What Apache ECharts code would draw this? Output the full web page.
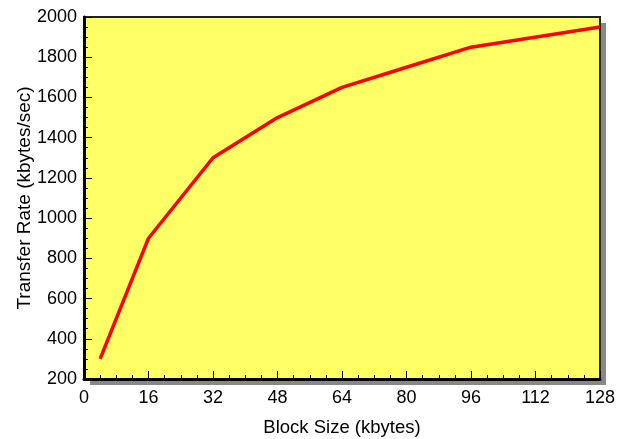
<!DOCTYPE html>
<html>
<head>
<meta charset="utf-8">
<script src="https://cdn.jsdelivr.net/npm/echarts@6/dist/echarts.min.js"></script>
<style>
  html, body { margin: 0; padding: 0; background: #fff; }
  #chart { width: 624px; height: 439px; }
</style>
</head>
<body>
<div id="chart"></div>
<script>
// block size (kbytes) vs transfer rate (kbytes/sec)
const blockSizes = [4, 16, 32, 48, 64, 80, 96, 128];
const transferRates = [300, 900, 1300, 1500, 1650, 1750, 1850, 1950];
const xTicks = [0, 16, 32, 48, 64, 80, 96, 112, 128];
const yTicks = [200, 400, 600, 800, 1000, 1200, 1400, 1600, 1800, 2000];

const font = "Liberation Sans, Arial, sans-serif";
const chart = echarts.init(document.getElementById("chart"));

const data = blockSizes.map((x, i) => [x, transferRates[i]]);

const tick = { inside: true, length: 8, lineStyle: { color: "#000", width: 1 } };
const minor = { show: true, splitNumber: 4, length: 4, lineStyle: { color: "#000", width: 1 } };
const label = { fontFamily: font, fontSize: 18, color: "#000", formatter: v => String(v) };

chart.setOption({
  animation: false,
  grid: [
    // drop shadow behind the plot
    { left: 90, right: 18, top: 23, bottom: 54, show: true, outerBoundsMode: "none",
      backgroundColor: "#888", borderWidth: 0 },
    { left: 84, right: 24, top: 17, bottom: 60, show: true, outerBoundsMode: "none",
      backgroundColor: "#ffff66", borderColor: "#222", borderWidth: 2 }
  ],
  xAxis: [
    { gridIndex: 0, type: "value", min: 0, max: 1, show: false },
    {
      gridIndex: 1,
      type: "value",
      min: xTicks[0],
      max: xTicks[xTicks.length - 1],
      interval: 16,
      name: "Block Size (kbytes)",
      nameLocation: "middle",
      nameGap: 39,
      nameTextStyle: { fontFamily: font, fontSize: 18.5, color: "#000" },
      axisLine: { lineStyle: { color: "#000", width: 3 } },
      axisTick: tick,
      minorTick: minor,
      splitLine: { show: false },
      axisLabel: Object.assign({ margin: 10 }, label)
    }
  ],
  yAxis: [
    { gridIndex: 0, type: "value", min: 0, max: 1, show: false },
    {
      gridIndex: 1,
      type: "value",
      min: yTicks[0],
      max: yTicks[yTicks.length - 1],
      interval: 200,
      name: "Transfer Rate (kbytes/sec)",
      nameLocation: "middle",
      nameGap: 50,
      nameMoveOverlap: false,
      nameTextStyle: { fontFamily: font, fontSize: 19, color: "#000" },
      axisLine: { lineStyle: { color: "#000", width: 3 } },
      axisTick: tick,
      minorTick: minor,
      splitLine: { show: false },
      axisLabel: Object.assign({ margin: 7 }, label)
    }
  ],
  series: [{
    type: "line",
    xAxisIndex: 1,
    yAxisIndex: 1,
    data: data,
    showSymbol: false,
    lineStyle: { color: "#ff0000", width: 3.5 },
    itemStyle: { color: "#ff0000" }
  }]
});
</script>
</body>
</html>
